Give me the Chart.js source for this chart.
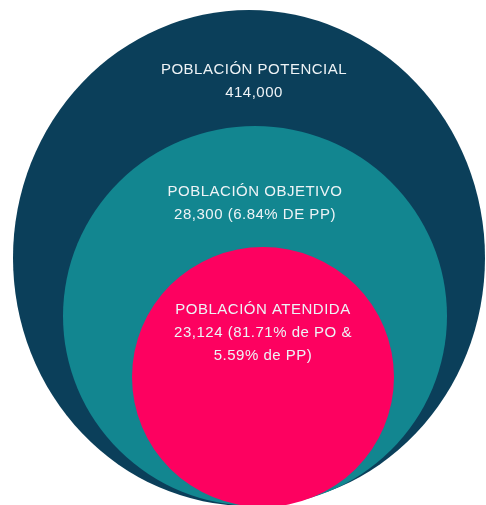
<!DOCTYPE html>
<html>
<head>
<meta charset="utf-8">
<script src="https://cdn.jsdelivr.net/npm/chart.js@4.4.1/dist/chart.umd.min.js"></script>
<style>
  html, body { margin: 0; padding: 0; background: #fff; }
  #wrap { width: 486px; height: 505px; }
</style>
</head>
<body>
<div id="wrap"><canvas id="circles"></canvas></div>
<script>
const categories = ['POBLACIÓN POTENCIAL', 'POBLACIÓN OBJETIVO', 'POBLACIÓN ATENDIDA'];
const population = [414000, 28300, 23124];
const pctOfPO = [null, null, 81.71];
const pctOfPP = [null, 6.84, 5.59];

// layout, in scale units (x 0..486 left to right, y 0..505 top to bottom)
const centres = [[249, 258], [255, 316], [263, 377]];
const radii = [[236, 248], [192, 190], [131, 130]];
const textX = [254, 255, 263];
const textTop = [70, 192, 310];
const colours = ['#0b3f5a', '#128690', '#fd0160'];

const fmt = v => v.toLocaleString('en-US');

function labelLines(i) {
  if (i === 0) return [categories[i], fmt(population[i])];
  if (i === 1) return [categories[i], fmt(population[i]) + ' (' + pctOfPP[i] + '% DE PP)'];
  return [categories[i], fmt(population[i]) + ' (' + pctOfPO[i] + '% de PO &', pctOfPP[i] + '% de PP)'];
}

const ellipses = {
  id: 'ellipses',
  afterDatasetsDraw(chart) {
    const ctx = chart.ctx;
    const x = chart.scales.x, y = chart.scales.y;
    chart.data.datasets.forEach((ds, i) => {
      const pt = chart.getDatasetMeta(i).data[0];
      const rx = x.getPixelForValue(radii[i][0]) - x.getPixelForValue(0);
      const ry = Math.abs(y.getPixelForValue(radii[i][1]) - y.getPixelForValue(0));
      ctx.save();
      ctx.beginPath();
      ctx.ellipse(pt.x, pt.y, rx, ry, 0, 0, Math.PI * 2);
      ctx.fillStyle = ds.backgroundColor;
      ctx.fill();
      ctx.restore();
    });

    ctx.save();
    ctx.font = '15px "Liberation Sans", Arial, sans-serif';
    ctx.letterSpacing = '0.5px';
    ctx.textAlign = 'center';
    ctx.textBaseline = 'middle';
    ctx.fillStyle = '#eef3f6';
    categories.forEach((c, i) => {
      labelLines(i).forEach((line, j) => {
        ctx.fillText(line, x.getPixelForValue(textX[i]), y.getPixelForValue(textTop[i] + j * 23));
      });
    });
    ctx.restore();
  }
};

new Chart(document.getElementById('circles'), {
  type: 'scatter',
  data: {
    datasets: categories.map((c, i) => ({
      label: c,
      data: [{ x: centres[i][0], y: centres[i][1] }],
      backgroundColor: colours[i],
      pointRadius: 0,
      pointHoverRadius: 0
    }))
  },
  options: {
    responsive: true,
    maintainAspectRatio: false,
    animation: false,
    layout: { padding: 0 },
    scales: {
      x: { type: 'linear', min: 0, max: 486, display: false },
      y: { type: 'linear', min: 0, max: 505, reverse: true, display: false }
    },
    plugins: {
      legend: { display: false },
      tooltip: { enabled: false }
    }
  },
  plugins: [ellipses]
});
</script>
</body>
</html>
